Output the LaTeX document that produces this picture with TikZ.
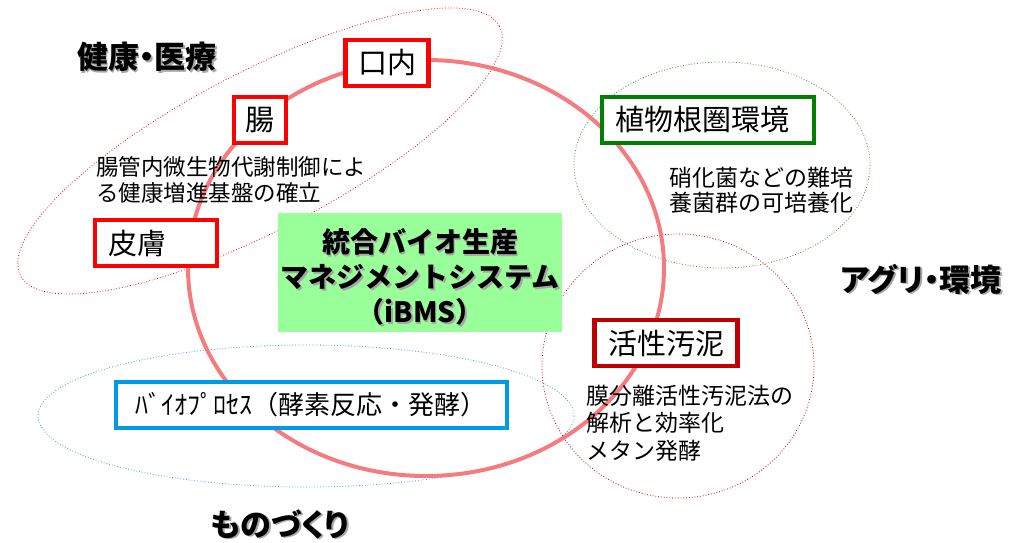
\documentclass[tikz,border=0pt]{standalone}
\usepackage{fontspec}
\setmainfont{Noto Sans CJK JP}
\usepackage{tikz}

\definecolor{ringpink}{RGB}{244,124,128}
\definecolor{rootgreen}{RGB}{0,128,0}
\definecolor{ibmsgreen}{RGB}{153,255,153}
\definecolor{sludgered}{RGB}{192,0,0}
\definecolor{processblue}{RGB}{0,153,230}
\definecolor{dotgreen}{RGB}{60,150,60}
\definecolor{dotblue}{RGB}{60,160,220}

\newcommand{\shadowtext}[1]{\makebox[0pt][l]{\hspace{1.6pt}\raisebox{-1.6pt}{\textcolor{black!35}{#1}}}#1}

\begin{document}
\begin{tikzpicture}[x=1pt, y=-1pt,
  labelbox/.style={draw, line width=4.5pt, fill=white, minimum height=46pt, inner sep=0pt, font=\fontsize{29}{34}\selectfont},
  redbox/.style={labelbox, draw=red},
  note/.style={anchor=west, align=left, inner sep=0pt},
  field/.style={inner sep=0pt, font=\fontsize{31}{36}\selectfont\bfseries\addfontfeatures{RawFeature=+palt}}]
\useasboundingbox (0,0) rectangle (1009,542);
\draw[red, dotted, thick] (260,151) circle [x radius=270, y radius=79, rotate=27.5];
\draw[dotgreen, dotted, thick] (722,165) circle [x radius=148, y radius=103];
\draw[sludgered, dotted, thick] (678,366) circle [x radius=136, y radius=132];
\draw[dotblue, dotted, thick] (306,416) circle [x radius=268, y radius=71];
\draw[ringpink, line width=4pt] (426,268) circle [x radius=238, y radius=208];
\node[redbox, minimum width=83pt] (mouth) at (387,63) {口内};
\node[redbox, minimum width=52pt] (gut) at (260,120) {腸};
\node[redbox, text width=96pt, align=left, inner xsep=13pt] (skin) at (156,243) {皮膚};
\node[labelbox, draw=rootgreen, text width=186pt, align=left, inner xsep=13pt] (root) at (708,120) {植物根圏環境};
\node[labelbox, draw=sludgered, minimum width=143pt] (sludge) at (666,343) {活性汚泥};
\node[labelbox, draw=processblue, line width=4pt, minimum width=391pt, font=\fontsize{26}{32}\selectfont] (process) at (311,405) {ﾊﾞｲｵﾌﾟﾛｾｽ（酵素反応・発酵）};
\node[fill=ibmsgreen, minimum width=284pt, minimum height=119pt] (ibms) at (420,272.5) {};
\node[align=center, inner sep=0pt, font=\fontsize{28}{35}\selectfont\bfseries] (ibmstext) at (420,278) {\shadowtext{統合バイオ生産}\\\shadowtext{マネジメントシステム}\\\shadowtext{（iBMS）}};
\node[note, font=\fontsize{22.5}{26}\selectfont] (gutnote) at (96,180) {腸管内微生物代謝制御によ\\る健康増進基盤の確立};
\node[note, font=\fontsize{23}{25}\selectfont] (rootnote) at (669,190) {硝化菌などの難培\\養菌群の可培養化};
\node[note, font=\fontsize{23}{27.5}\selectfont] (sludgenote) at (586,423) {膜分離活性汚泥法の\\解析と効率化\\メタン発酵};
\node[field] (health) at (147,58) {\shadowtext{健康・医療}};
\node[field] (agri) at (921,280) {\shadowtext{アグリ・環境}};
\node[field] (making) at (280,525) {\shadowtext{ものづくり}};
\end{tikzpicture}
\end{document}
